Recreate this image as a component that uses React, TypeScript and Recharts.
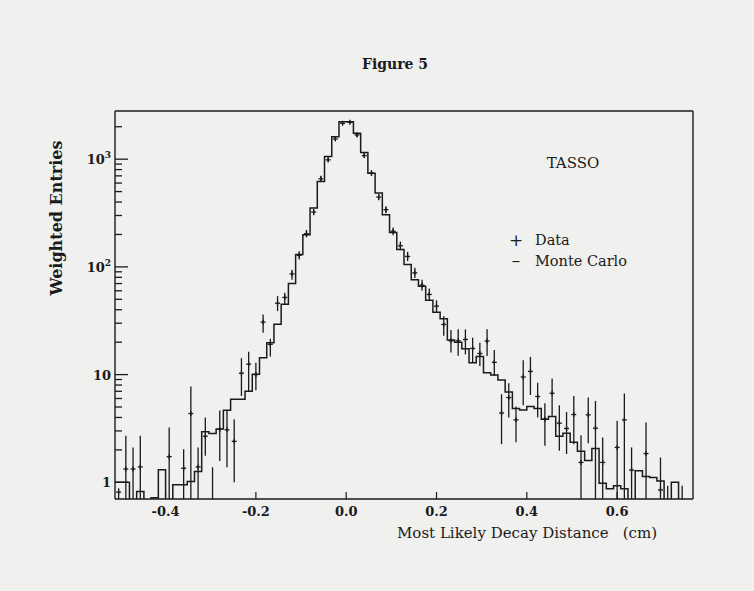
import { ComposedChart, ErrorBar, Line, Scatter, XAxis, YAxis } from "recharts";

// histogram binning: 80 bins of 0.016 cm
const BIN_START = -0.512;
const BIN_WIDTH = 0.016;
const BIN_COUNT = 80;
const Y_FLOOR = 0.7;
const Y_CEIL = 2800;

// Monte Carlo entries per bin (0 = empty bin)
const monteCarlo = [
  1.0, 1.0, 0, 0.82, 0, 0.72, 1.31, 0, 0.95, 0.95,
  1.02, 1.26, 2.94, 2.84, 3.12, 4.67, 5.9, 5.9, 7.0, 10.1,
  14.3, 19.8, 29.4, 45, 70, 130, 199, 352, 621, 1057,
  1619, 2230, 2230, 1741, 1151, 742, 484, 305, 209, 145,
  105, 76, 66, 49, 38, 33, 21, 20, 17.4, 12.9,
  14.7, 10.4, 9.9, 8.9, 6.9, 4.84, 4.7, 5.06, 4.84, 3.86,
  4.08, 2.67, 2.86, 2.35, 1.94, 1.59, 2.06, 0.98, 0.87, 0.93,
  0.87, 0, 1.28, 1.13, 1.11, 1.03, 0, 1.0, 0, 0,
];

// data points: bin index, value, lower / upper end of error bar (0 = runs to the axis)
const dataBins = [
  0, 1, 2, 3, 7, 9, 10, 11, 12, 14, 15, 16, 17, 18, 19, 20, 21, 22, 23, 24,
  25, 26, 27, 28, 29, 30, 31, 32, 33, 34, 35, 36, 37, 38, 39, 40, 41, 42, 43, 44,
  45, 46, 47, 48, 49, 50, 51, 52, 53, 54, 55, 56, 57, 58, 59, 60, 61, 62, 63, 64,
  65, 66, 67, 69, 70, 71, 73, 75,
];
const dataValues = [
  0.81, 1.33, 1.33, 1.39, 1.73, 1.35, 4.35, 1.39, 2.68, 3.1, 3.07, 2.4, 10.3, 12.5, 10.0, 30.7, 19.1, 46, 52, 86,
  128, 203, 323, 657, 986, 1541, 2154, 2200, 1679, 1080, 742, 445, 340, 214, 157, 125, 88, 67.6, 55.5, 43.2,
  29.2, 20.6, 20.6, 21.2, 17.5, 15.7, 20.5, 13, 4.4, 6.12, 3.8, 9.5, 10.7, 6.26, 3.86, 6.71, 3.54, 3.16, 4.26, 1.53,
  4.23, 3.18, 1.53, 2.11, 3.8, 1.3, 1.85, 0.85,
];
const dataLow = [
  0, 0, 0, 0, 0, 0, 0, 0, 1.76, 1.58, 1.38, 1.0, 6.34, 7.05, 7.15, 24.5, 14.7, 38.8, 44.8, 76,
  117, 188, 302, 615, 935, 1475, 2080, 2120, 1610, 1025, 700, 415, 315, 197, 143, 113, 79, 60, 49, 38,
  23, 16, 15, 15.4, 12.9, 12, 14.9, 9.7, 2.26, 4.0, 2.35, 5.2, 6.47, 4.0, 2.18, 4.14, 1.96, 1.83, 2.26, 0,
  2.3, 0, 0, 0, 0, 0, 0, 0,
];
const dataHigh = [
  0.88, 2.7, 2.11, 2.7, 3.23, 2.03, 7.74, 2.11, 4.0, 4.65, 4.7, 3.86, 14.2, 16.3, 12.9, 36.2, 21.5, 53.5, 57.5, 94,
  140, 220, 345, 700, 1040, 1610, 2230, 2280, 1750, 1140, 790, 475, 365, 232, 172, 138, 98, 76, 63, 49,
  34.8, 26, 26.3, 26.3, 22, 19.8, 26.3, 16.9, 6.57, 8.3, 5.06, 13.6, 14.6, 8.4, 5.42, 9.2, 5.2, 4.5, 6.34, 2.74,
  6.12, 5.7, 2.61, 3.72, 6.67, 2.11, 3.59, 1.7,
];
// points whose value lies below the axis: only the upper part of the bar shows
const belowBins = [13, 76, 78];
const belowHigh = [1.38, 0.93, 0.93];

const xTicks = [-0.4, -0.2, 0, 0.2, 0.4, 0.6];
const yMajor = [1, 10, 100, 1000];
const yMajorLabels = ["1", "10", "10|2", "10|3"];
const yMinor = [2, 3, 4, 5, 6, 7, 8, 9];

const INK = "#1a1a1a";
const FONT = "'DejaVu Serif', serif";

const histogram = [
  ...monteCarlo.map((v, i) => ({ x: BIN_START + i * BIN_WIDTH, y: v > 0 ? v : 0.3 })),
  { x: BIN_START + BIN_COUNT * BIN_WIDTH, y: 0.3 },
];

const points = dataBins.map((b, i) => {
  const v = dataValues[i];
  const lo = dataLow[i] > 0 ? dataLow[i] : Y_FLOOR;
  return { x: BIN_START + (b + 0.5) * BIN_WIDTH, y: v, err: [v - lo, dataHigh[i] - v] };
});

const belowPoints = belowBins.map((b, i) => ({
  x: BIN_START + (b + 0.5) * BIN_WIDTH,
  y: Y_FLOOR,
  err: [0, belowHigh[i] - Y_FLOOR],
}));

const yTicks = [
  ...yMajor.slice(0, 3).flatMap((d) => [d, ...yMinor.map((m) => m * d)]),
  1000,
  2000,
];

function XTick({ x, y, payload }: any) {
  const v = payload.value as number;
  const label = v === 0 ? "0.0" : v.toFixed(1);
  return (
    <g>
      <line x1={x} x2={x} y1={y} y2={y - 7} stroke={INK} strokeWidth={1.2} />
      <text x={x} y={y + 17} textAnchor="middle" fontFamily={FONT} fontSize={13} fontWeight="bold" fill={INK}>
        {label}
      </text>
    </g>
  );
}

function YTick({ x, y, payload }: any) {
  const v = payload.value as number;
  const idx = yMajor.indexOf(v);
  const len = idx >= 0 ? 13 : 7;
  let label = null;
  if (idx >= 0) {
    const [base, sup] = yMajorLabels[idx].split("|");
    label = (
      <text x={x - 4} y={y + 5} textAnchor="end" fontFamily={FONT} fontSize={13} fontWeight="bold" fill={INK}>
        {base}
        {sup && (
          <tspan dy={-6} fontSize={9}>
            {sup}
          </tspan>
        )}
      </text>
    );
  }
  return (
    <g>
      <line x1={x} x2={x + len} y1={y} y2={y} stroke={INK} strokeWidth={1.3} />
      {label}
    </g>
  );
}

const Cross = ({ cx, cy }: any) => (
  <g>
    <line x1={cx - 2.5} x2={cx + 2.5} y1={cy} y2={cy} stroke={INK} strokeWidth={1.3} />
    <line x1={cx} x2={cx} y1={cy - 2.5} y2={cy + 2.5} stroke={INK} strokeWidth={1.3} />
  </g>
);

const NoMark = () => <g />;

export default function App() {
  return (
    <div style={{ position: "absolute", left: 0, top: 0, width: 754, height: 591, background: "#f0f0ee" }}>
      <ComposedChart width={754} height={591} margin={{ top: 110, right: 60, bottom: 62, left: 70 }}>
        <XAxis
          xAxisId="x"
          dataKey="x"
          type="number"
          domain={[BIN_START, BIN_START + BIN_COUNT * BIN_WIDTH]}
          allowDataOverflow
          ticks={xTicks}
          interval={0}
          tickSize={0}
          tickMargin={0}
          tickLine={false}
          tick={<XTick />}
          axisLine={{ stroke: INK, strokeWidth: 1.4 }}
          height={30}
        />
        <XAxis
          xAxisId="top"
          orientation="top"
          type="number"
          domain={[0, 1]}
          tick={false}
          tickLine={false}
          axisLine={{ stroke: INK, strokeWidth: 1.4 }}
          height={1}
        />
        <YAxis
          yAxisId="y"
          dataKey="y"
          type="number"
          scale="log"
          domain={[Y_FLOOR, Y_CEIL]}
          allowDataOverflow
          ticks={yTicks}
          interval={0}
          tickSize={0}
          tickMargin={0}
          tickLine={false}
          tick={<YTick />}
          axisLine={{ stroke: INK, strokeWidth: 1.4 }}
          width={45}
        />
        <YAxis
          yAxisId="right"
          orientation="right"
          type="number"
          domain={[0, 1]}
          tick={false}
          tickLine={false}
          axisLine={{ stroke: INK, strokeWidth: 1.4 }}
          width={1}
        />
        <Line
          xAxisId="x"
          yAxisId="y"
          data={histogram}
          dataKey="y"
          type="stepAfter"
          stroke={INK}
          strokeWidth={1.5}
          dot={false}
          isAnimationActive={false}
        />
        <Scatter xAxisId="x" yAxisId="y" data={points} dataKey="y" shape={<Cross />} isAnimationActive={false}>
          <ErrorBar dataKey="err" direction="y" width={0} stroke={INK} strokeWidth={1.3} isAnimationActive={false} />
        </Scatter>
        <Scatter xAxisId="x" yAxisId="y" data={belowPoints} dataKey="y" shape={<NoMark />} isAnimationActive={false}>
          <ErrorBar dataKey="err" direction="y" width={0} stroke={INK} strokeWidth={1.3} isAnimationActive={false} />
        </Scatter>
      </ComposedChart>
      <svg
        width={754}
        height={591}
        style={{ position: "absolute", left: 0, top: 0, pointerEvents: "none" }}
        fontFamily={FONT}
        fill={INK}
      >
        <text x={395} y={69} textAnchor="middle" fontSize={14} fontWeight="bold">
          Figure 5
        </text>
        <text x={573} y={168} textAnchor="middle" fontSize={15}>
          TASSO
        </text>
        <text x={516} y={246} textAnchor="middle" fontSize={17}>
          +
        </text>
        <text x={535} y={245} fontSize={14.5}>
          Data
        </text>
        <text x={516} y={266} textAnchor="middle" fontSize={17}>
          –
        </text>
        <text x={535} y={266} fontSize={14.5}>
          Monte Carlo
        </text>
        <text x={62} y={218} textAnchor="middle" fontSize={16} fontWeight="bold" transform="rotate(-90 62 218)">
          Weighted Entries
        </text>
        <text x={397} y={538} fontSize={15}>
          Most Likely Decay Distance
        </text>
        <text x={657} y={538} textAnchor="end" fontSize={15}>
          (cm)
        </text>
      </svg>
    </div>
  );
}
